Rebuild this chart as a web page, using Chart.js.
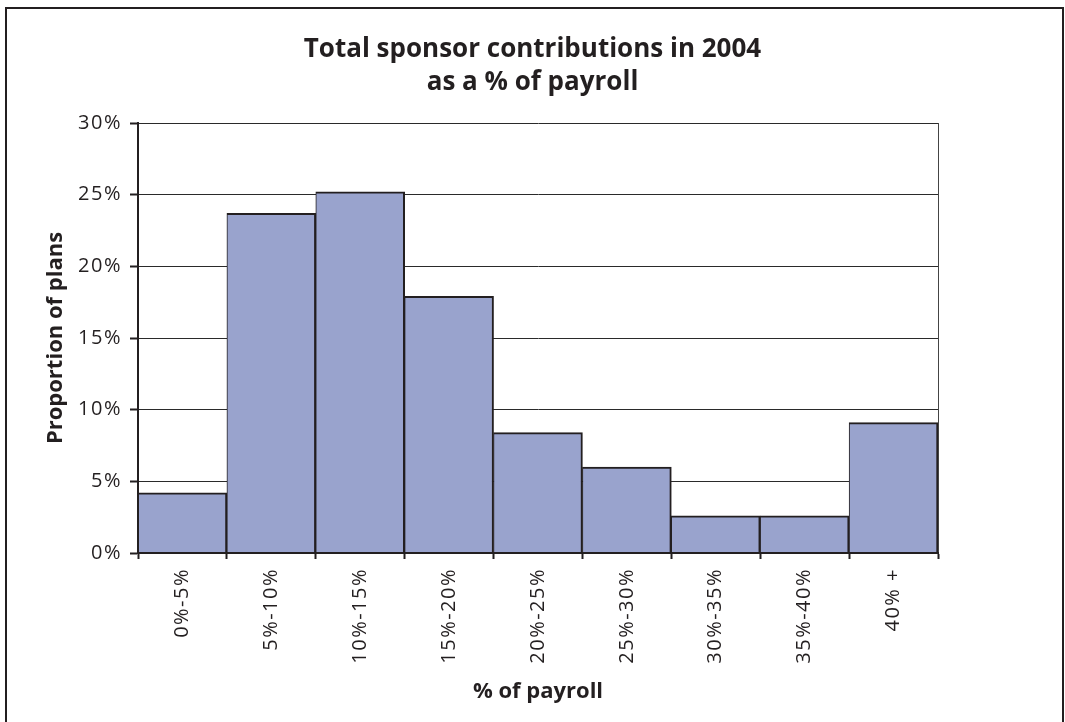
<!DOCTYPE html>
<html>
<head>
<meta charset="utf-8">
<script src="https://cdn.jsdelivr.net/npm/chart.js@4/dist/chart.umd.min.js"></script>
<style>
  html, body { margin: 0; padding: 0; background: #ffffff; }
  #wrap { width: 1065px; height: 722px; }
</style>
</head>
<body>
<div id="wrap"><canvas id="c" width="1065" height="722"></canvas></div>
<script>
// ---- data ----
const categories = ['0%-5%', '5%-10%', '10%-15%', '15%-20%', '20%-25%', '25%-30%', '30%-35%', '35%-40%', '40% +'];
const proportionOfPlans = [4.2, 23.7, 25.2, 17.9, 8.4, 6.0, 2.6, 2.6, 9.1];
const yTickValues = [0, 5, 10, 15, 20, 25, 30];
const chartTitle = ['Total sponsor contributions in 2004', 'as a % of payroll'];
const xAxisTitle = '% of payroll';
const yAxisTitle = 'Proportion of plans';

const INK = '#231f20';

const decorPlugin = {
  id: 'decor',
  beforeDraw(chart) {
    const ctx = chart.ctx;
    ctx.save();
    ctx.fillStyle = '#ffffff';
    ctx.fillRect(0, 0, chart.width, chart.height);
    // outer frame
    ctx.strokeStyle = INK;
    ctx.lineWidth = 2;
    ctx.beginPath();
    ctx.moveTo(6, chart.height + 2);
    ctx.lineTo(6, 8);
    ctx.lineTo(1063, 8);
    ctx.lineTo(1063, chart.height + 2);
    ctx.stroke();
    ctx.restore();
    if ('letterSpacing' in ctx) ctx.letterSpacing = '0px';
  },
  afterDatasetsDraw(chart) {
    const ctx = chart.ctx;
    const a = chart.chartArea;
    ctx.save();
    ctx.strokeStyle = '#444';
    ctx.lineWidth = 1;
    ctx.beginPath();
    ctx.moveTo(Math.round(a.right) + 0.5, a.top);
    ctx.lineTo(Math.round(a.right) + 0.5, a.bottom);
    ctx.stroke();
    ctx.restore();
    if ('letterSpacing' in ctx) ctx.letterSpacing = '1.5px';
  },
  afterDraw(chart) {
    if ('letterSpacing' in chart.ctx) chart.ctx.letterSpacing = '0px';
  }
};

new Chart(document.getElementById('c'), {
  type: 'bar',
  data: {
    labels: categories,
    datasets: [{
      data: proportionOfPlans,
      backgroundColor: '#99a3cd',
      borderColor: INK,
      borderWidth: { top: 2, left: 1, right: 2, bottom: 0 },
      borderSkipped: false,
      barPercentage: 1,
      categoryPercentage: 1
    }]
  },
  plugins: [decorPlugin],
  options: {
    responsive: false,
    animation: false,
    devicePixelRatio: 1,
    layout: { padding: { left: 0, right: 0, top: 0, bottom: 0 } },
    plugins: {
      legend: { display: false },
      tooltip: { enabled: false },
      title: {
        display: true,
        text: chartTitle,
        color: INK,
        font: { family: 'Open Sans', size: 26, weight: 'bold', lineHeight: 33 / 26 },
        padding: { top: 33.5, bottom: 23.5 }
      }
    },
    scales: {
      x: {
        type: 'category',
        afterFit(scale) { scale.height = 169; },
        grid: {
          offset: true,
          drawOnChartArea: false,
          drawTicks: true,
          tickLength: 6,
          tickWidth: 2,
          tickColor: INK
        },
        border: { display: true, color: INK, width: 2, z: 1 },
        ticks: {
          z: 1,
          minRotation: 90,
          maxRotation: 90,
          autoSkip: false,
          padding: 9,
          color: INK,
          font: { family: 'Open Sans', size: 20 }
        },
        title: {
          display: true,
          text: xAxisTitle,
          color: INK,
          font: { family: 'Open Sans', size: 22, weight: 'bold' },
          padding: { top: 0, bottom: 17 }
        }
      },
      y: {
        min: 0,
        max: 30,
        afterFit(scale) { scale.width = 138; },
        afterBuildTicks(scale) { scale.ticks = yTickValues.map(v => ({ value: v })); },
        grid: {
          color: '#2a2a2a',
          lineWidth: 1,
          drawTicks: true,
          tickLength: 8,
          tickWidth: 2,
          tickColor: INK
        },
        border: { display: true, color: INK, width: 2, z: 1 },
        ticks: {
          z: 1,
          padding: 8,
          color: INK,
          font: { family: 'Open Sans', size: 20 },
          callback: (v) => v + '%'
        },
        title: {
          display: true,
          text: yAxisTitle,
          color: INK,
          font: { family: 'Open Sans', size: 22, weight: 'bold' },
          padding: { top: 43, bottom: 0 }
        }
      },
      yRightSpace: {
        type: 'linear',
        position: 'right',
        display: true,
        afterFit(scale) { scale.width = 127; },
        grid: { display: false, drawOnChartArea: false, drawTicks: false },
        border: { display: false },
        ticks: { display: false }
      }
    }
  }
});
</script>
</body>
</html>
